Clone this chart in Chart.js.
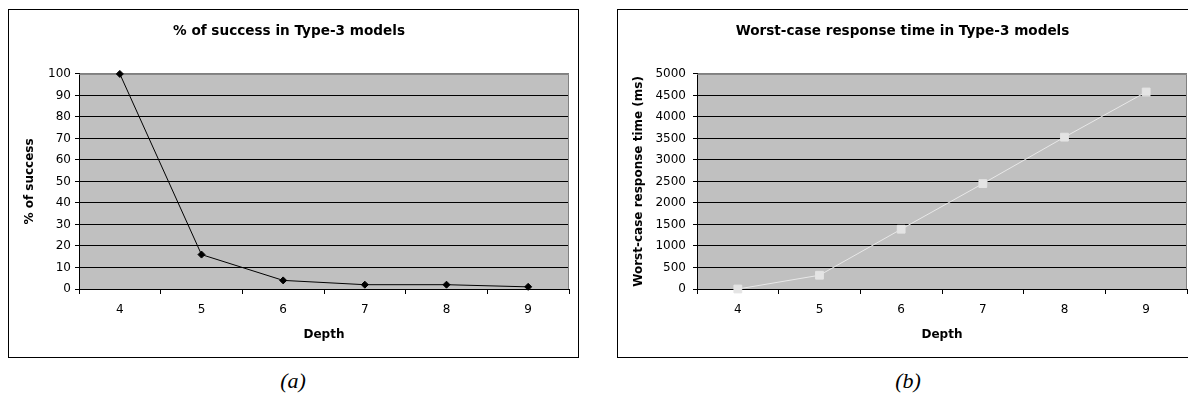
<!DOCTYPE html>
<html>
<head>
<meta charset="utf-8">
<script src="https://cdn.jsdelivr.net/npm/chart.js@4.4.1/dist/chart.umd.min.js"></script>
<style>
  html, body { margin: 0; padding: 0; background: #fff; width: 1188px; height: 397px; overflow: hidden; position: relative; }
  .box { position: absolute; border: 1px solid #000; background: #fff; }
  .box canvas { display: block; }
  .cap { position: absolute; font-family: "Liberation Serif", "Times New Roman", serif; font-style: italic; font-size: 22px; line-height: 26px; width: 60px; text-align: center; top: 368px; }
</style>
</head>
<body>
<div class="box" style="left:8px; top:9px; width:569px; height:347px;">
  <canvas id="chartA" width="569" height="347"></canvas>
</div>
<div class="box" style="left:617px; top:9px; width:578px; height:347px;">
  <canvas id="chartB" width="578" height="347"></canvas>
</div>
<div class="cap" style="left:263px;">(a)</div>
<div class="cap" style="left:878px;">(b)</div>
<script>
var depths = ['4', '5', '6', '7', '8', '9'];
var successPct = [100, 16, 4, 2, 2, 1];
var responseMs = [0, 320, 1390, 2450, 3530, 4580];

var FONT = 'DejaVu Sans, Arial, sans-serif';

var plotBack = {
    id: 'plotBack',
    beforeDraw: function(chart) {
        var ctx = chart.ctx, a = chart.chartArea;
        ctx.save();
        ctx.fillStyle = '#c0c0c0';
        ctx.fillRect(a.left, a.top, a.right - a.left, a.bottom - a.top);
        ctx.restore();
    },
    beforeDatasetsDraw: function(chart) {
        var ctx = chart.ctx, a = chart.chartArea;
        ctx.save();
        ctx.strokeStyle = '#808080';
        ctx.lineWidth = 1;
        ctx.beginPath();
        ctx.moveTo(a.left, a.top + 0.5);
        ctx.lineTo(a.right - 0.5, a.top + 0.5);
        ctx.lineTo(a.right - 0.5, a.bottom);
        ctx.stroke();
        ctx.restore();
    }
};

function makeChart(id, title, yTitle, values, yMax, yStep, yWidth, yPad, lineColor, pointStyle, pointRadius, pointColor) {
    return new Chart(document.getElementById(id), {
        type: 'line',
        data: {
            labels: depths,
            datasets: [{
                data: values,
                borderColor: lineColor,
                borderWidth: 1,
                pointStyle: pointStyle,
                pointRadius: pointRadius,
                pointBackgroundColor: pointColor,
                pointBorderColor: pointColor,
                pointBorderWidth: 1,
                tension: 0,
                clip: false
            }]
        },
        options: {
            responsive: false,
            animation: false,
            layout: { padding: { left: 0, right: 9, top: 0, bottom: 0 } },
            plugins: {
                legend: { display: false },
                tooltip: { enabled: false },
                title: {
                    display: true,
                    text: title,
                    color: '#000',
                    font: { family: FONT, size: 13.6, weight: 'bold' },
                    padding: { top: 13.6, bottom: 34 }
                }
            },
            scales: {
                x: {
                    offset: true,
                    grid: { offset: true, drawOnChartArea: false, drawTicks: true, tickLength: 5, color: '#000', tickColor: '#000' },
                    border: { display: true, color: '#000', width: 1 },
                    ticks: { color: '#000', padding: 9, font: { family: FONT, size: 12 } },
                    title: {
                        display: true,
                        text: 'Depth',
                        color: '#000',
                        font: { family: FONT, size: 12, weight: 'bold' },
                        padding: { top: 0, bottom: 15 }
                    },
                    afterFit: function(scale) { scale.height = 68; }
                },
                y: {
                    min: 0,
                    max: yMax,
                    grid: {
                        color: function(c) { return c.tick && c.tick.value === yMax ? '#808080' : '#000'; },
                        tickColor: '#000',
                        tickLength: 4,
                        lineWidth: 1
                    },
                    border: { display: true, color: '#000', width: 1 },
                    ticks: {
                        stepSize: yStep,
                        color: '#000',
                        padding: yPad,
                        font: { family: FONT, size: 12 },
                        callback: function(value) { return String(value); }
                    },
                    title: {
                        display: true,
                        text: yTitle,
                        color: '#000',
                        font: { family: FONT, size: 12, weight: 'bold' },
                        padding: { top: 14, bottom: 0 }
                    },
                    afterFit: function(scale) { scale.width = yWidth; }
                }
            }
        },
        plugins: [plotBack]
    });
}

var chartA = makeChart('chartA', '% of success in Type-3 models', '% of success',
    successPct, 100, 10, 70, 4, '#000', 'rectRot', 3.5, '#000');
var chartB = makeChart('chartB', 'Worst-case response time in Type-3 models', 'Worst-case response time (ms)',
    responseMs, 5000, 500, 79, 7, '#e8e8e8', 'rect', 5.5, '#e4e4e4');
</script>
</body>
</html>
